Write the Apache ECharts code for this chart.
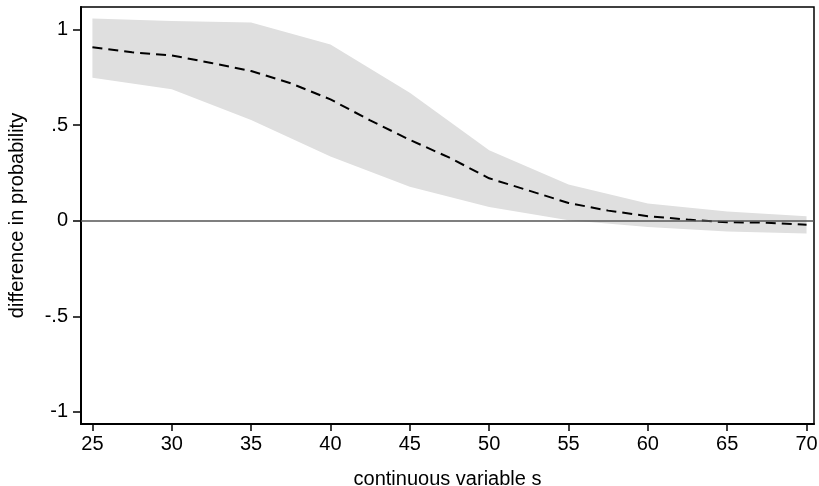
<!DOCTYPE html>
<html>
<head>
<meta charset="utf-8">
<script src="https://cdn.jsdelivr.net/npm/echarts@6/dist/echarts.min.js"></script>
<style>
html,body{margin:0;padding:0;background:#fff;}
#chart{width:819px;height:486px;}
</style>
</head>
<body>
<div id="chart"></div>
<script>
// x values of the estimate line
const lineX = [25, 27.5, 30, 32.5, 35, 37.5, 40, 42.5, 45, 47.5, 50, 52.5, 55, 57.5, 60, 62.5, 65, 67.5, 70];
// difference in probability (point estimate)
const lineY = [0.907, 0.881, 0.865, 0.825, 0.783, 0.719, 0.635, 0.525, 0.423, 0.330, 0.222, 0.158, 0.093, 0.053, 0.024, 0.006, -0.008, -0.010, -0.021];
// confidence band
const bandX = [25, 30, 35, 40, 45, 50, 55, 60, 65, 70];
const bandUpper = [1.058, 1.045, 1.037, 0.922, 0.670, 0.369, 0.190, 0.090, 0.048, 0.024];
const bandLower = [0.748, 0.688, 0.527, 0.336, 0.178, 0.072, 0.003, -0.033, -0.056, -0.066];
// tick values
const xTicks = [25, 30, 35, 40, 45, 50, 55, 60, 65, 70];
const yTicks = [-1, -0.5, 0, 0.5, 1];
const yTickLabels = ['-1', '-.5', '0', '.5', '1'];

const FONT = 'Liberation Sans';
const FS = 20;
const chart = echarts.init(document.getElementById('chart'), null, {renderer: 'canvas'});

const bandData = bandX.map((x, i) => [x, bandLower[i], bandUpper[i]]);

chart.setOption({
  animation: false,
  backgroundColor: '#fff',
  grid: {left: 81, right: 5, top: 7, bottom: 62, show: true, borderColor: '#000', borderWidth: 1.5,
    backgroundColor: 'transparent', outerBoundsMode: 'none', containLabel: false},
  xAxis: {
    type: 'value', min: 24.28, max: 70.47,
    name: 'continuous variable s', nameLocation: 'middle', nameGap: 45,
    nameTextStyle: {fontFamily: FONT, fontSize: FS, color: '#000'},
    axisLine: {show: true, onZero: false, lineStyle: {color: '#000', width: 2}},
    axisTick: {show: true, length: 7, lineStyle: {color: '#000', width: 1.5}, customValues: xTicks},
    axisLabel: {fontFamily: FONT, fontSize: FS, color: '#000', margin: 10, customValues: xTicks},
    splitLine: {show: false}
  },
  yAxis: {
    type: 'value', min: -1.063, max: 1.118,
    name: 'difference in probability', nameLocation: 'middle', nameGap: 54,
    nameTextStyle: {fontFamily: FONT, fontSize: FS, color: '#000'},
    axisLine: {show: true, onZero: false, lineStyle: {color: '#000', width: 2}},
    axisTick: {show: true, length: 8, lineStyle: {color: '#000', width: 1.5}, customValues: yTicks},
    axisLabel: {fontFamily: FONT, fontSize: FS, color: '#000', margin: 13, customValues: yTicks,
      formatter: v => { const i = yTicks.indexOf(v); return i >= 0 ? yTickLabels[i] : ''; }},
    splitLine: {show: false}
  },
  series: [
    {
      type: 'line', data: [], z: 1,
      markLine: {silent: true, symbol: 'none', label: {show: false},
        lineStyle: {color: '#555', width: 1.5, type: 'solid'}, data: [{yAxis: 0}]}
    },
    {
      type: 'custom', z: 2, data: bandData,
      encode: {x: 0, y: [1, 2]},
      renderItem: function (params, api) {
        if (params.dataIndex !== 0) return null;
        const upper = bandData.map(d => api.coord([d[0], d[2]]));
        const lower = bandData.map(d => api.coord([d[0], d[1]])).reverse();
        return {type: 'polygon', shape: {points: upper.concat(lower)},
          style: {fill: '#dfdfdf', stroke: null}};
      }
    },
    {
      type: 'line', data: lineX.map((x, i) => [x, lineY[i]]), symbol: 'none', z: 3,
      lineStyle: {color: '#000', width: 2, type: [10, 6]}
    }
  ]
});
</script>
</body>
</html>
